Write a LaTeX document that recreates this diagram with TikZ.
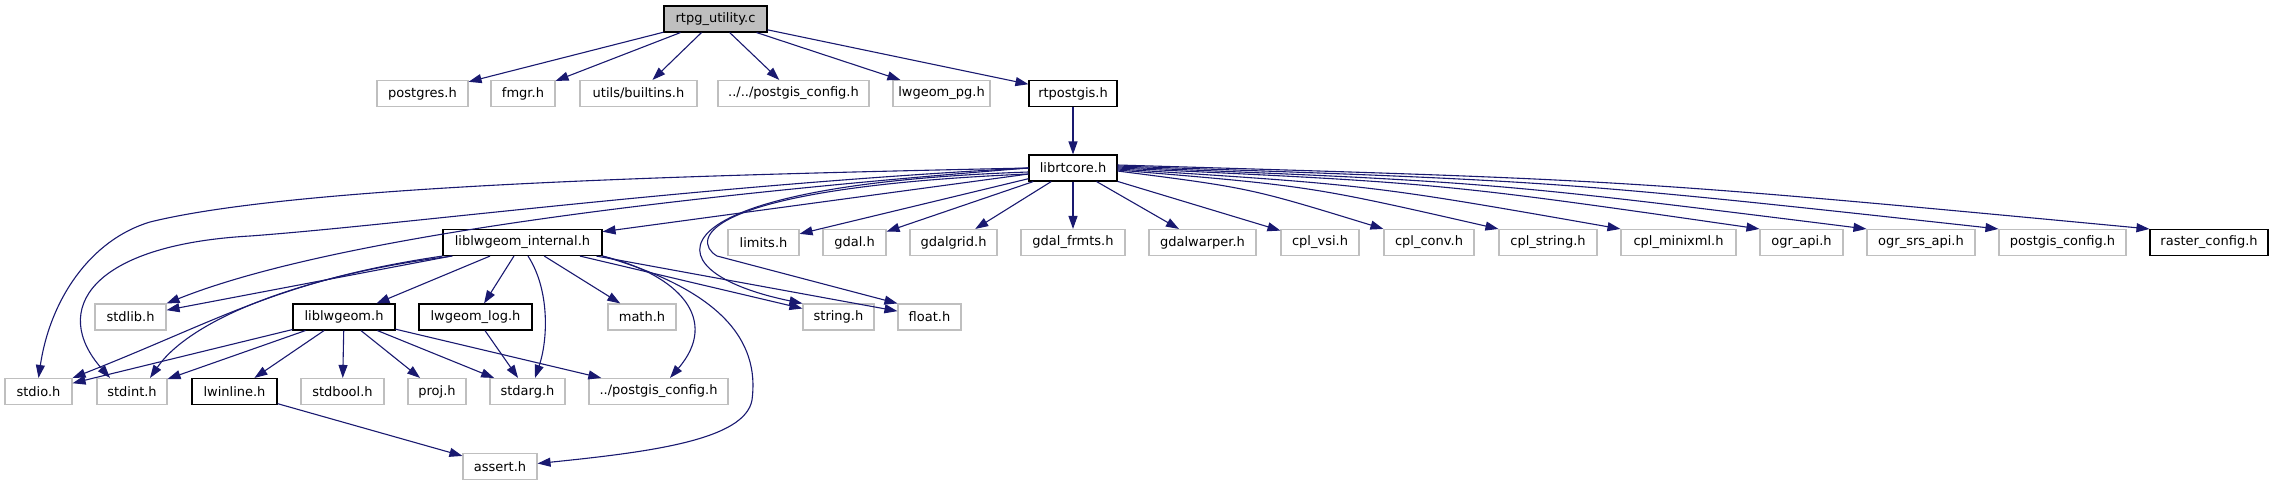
\documentclass[tikz,border=0pt]{standalone}
\usepackage{fontspec}
\setmainfont{DejaVu Sans}
\usetikzlibrary{arrows.meta}

\definecolor{edgeblue}{HTML}{191970}
\definecolor{grey75}{HTML}{BFBFBF}

\begin{document}
\begin{tikzpicture}[x=1pt, y=1pt,
    hdr/.style={draw=grey75, line width=1.1pt, minimum height=26pt, inner sep=0pt,
                font=\fontsize{13pt}{15pt}\selectfont},
    doc/.style={hdr, draw=black},
    edge/.style={draw=edgeblue, line width=1.1pt, -{Triangle[length=13pt,width=9pt]}}]
    \useasboundingbox (0,0) rectangle (2274,-485);

    % top and first row
    \node[doc, fill=grey75, minimum width=103pt] (rtpg) at (715.5,-19) {rtpg\_utility.c};
    \node[hdr, minimum width=91pt] (postgres) at (422.5,-93.5) {postgres.h};
    \node[hdr, minimum width=64pt] (fmgr) at (523,-93.5) {fmgr.h};
    \node[hdr, minimum width=117pt] (builtins) at (638.5,-93.5) {utils/builtins.h};
    \node[hdr, minimum width=151pt] (pgcfgup) at (793.5,-93.5) {../../postgis\_config.h};
    \node[hdr, minimum width=97pt] (lwpg) at (941.5,-93.5) {lwgeom\_pg.h};
    \node[doc, minimum width=88pt] (rtpostgis) at (1073,-93.5) {rtpostgis.h};
    \node[doc, minimum width=88pt] (librtcore) at (1073,-168) {librtcore.h};

    % third row
    \node[doc, minimum width=159pt] (lwi) at (522.5,-242.5) {liblwgeom\_internal.h};
    \node[hdr, minimum width=71pt] (limits) at (763.5,-242.5) {limits.h};
    \node[hdr, minimum width=63pt] (gdal) at (854.5,-242.5) {gdal.h};
    \node[hdr, minimum width=87pt] (gdalgrid) at (953.5,-242.5) {gdalgrid.h};
    \node[hdr, minimum width=104pt] (frmts) at (1073,-242.5) {gdal\_frmts.h};
    \node[hdr, minimum width=107pt] (warper) at (1202.5,-242.5) {gdalwarper.h};
    \node[hdr, minimum width=78pt] (vsi) at (1320,-242.5) {cpl\_vsi.h};
    \node[hdr, minimum width=90pt] (conv) at (1429,-242.5) {cpl\_conv.h};
    \node[hdr, minimum width=98pt] (cplstr) at (1548,-242.5) {cpl\_string.h};
    \node[hdr, minimum width=115pt] (minixml) at (1678.5,-242.5) {cpl\_minixml.h};
    \node[hdr, minimum width=83pt] (ogr) at (1801.5,-242.5) {ogr\_api.h};
    \node[hdr, minimum width=108pt] (ogrsrs) at (1921,-242.5) {ogr\_srs\_api.h};
    \node[hdr, minimum width=127pt] (pgcfg) at (2062.5,-242.5) {postgis\_config.h};
    \node[doc, minimum width=118pt] (rastcfg) at (2209,-242.5) {raster\_config.h};

    % fourth row
    \node[hdr, minimum width=71pt] (stdlib) at (130.5,-317) {stdlib.h};
    \node[doc, minimum width=102pt] (lwgeom) at (344,-317) {liblwgeom.h};
    \node[doc, minimum width=113pt] (lwlog) at (475.5,-317) {lwgeom\_log.h};
    \node[hdr, minimum width=68pt] (math) at (642,-317) {math.h};
    \node[hdr, minimum width=71pt] (string) at (838.5,-317) {string.h};
    \node[hdr, minimum width=63pt] (float) at (929.5,-317) {float.h};

    % fifth row
    \node[hdr, minimum width=67pt] (stdio) at (38.5,-391.5) {stdio.h};
    \node[hdr, minimum width=70pt] (stdint) at (132,-391.5) {stdint.h};
    \node[doc, minimum width=85pt] (lwinline) at (234.5,-391.5) {lwinline.h};
    \node[hdr, minimum width=83pt] (stdbool) at (342.5,-391.5) {stdbool.h};
    \node[hdr, minimum width=58pt] (proj) at (437,-391.5) {proj.h};
    \node[hdr, minimum width=75pt] (stdarg) at (527.5,-391.5) {stdarg.h};
    \node[hdr, minimum width=139pt] (pgcfgdn) at (658.5,-391.5) {../postgis\_config.h};
    \node[hdr, minimum width=74pt] (assert) at (500,-466.5) {assert.h};

    \draw[edge] (rtpg) -- (postgres);
    \draw[edge] (rtpg) -- (fmgr);
    \draw[edge] (rtpg) -- (builtins);
    \draw[edge] (rtpg) -- (pgcfgup);
    \draw[edge] (rtpg) -- (lwpg);
    \draw[edge] (rtpg) -- (rtpostgis);
    \draw[edge] (rtpostgis) -- (librtcore);

    \draw[edge] (librtcore) -- (lwi);
    \draw[edge] (librtcore) -- (limits);
    \draw[edge] (librtcore) -- (gdal);
    \draw[edge] (librtcore) -- (gdalgrid);
    \draw[edge] (librtcore) -- (frmts);
    \draw[edge] (librtcore) -- (warper);
    \draw[edge] (librtcore) -- (vsi);
    \draw[edge] ([yshift=-3pt]librtcore.east) .. controls (1250,-188) .. (conv.north west);
    \draw[edge] ([yshift=-2pt]librtcore.east) .. controls (1310,-186) .. (cplstr.north west);
    \draw[edge] ([yshift=-1pt]librtcore.east) .. controls (1370,-185) .. (minixml.north west);
    \draw[edge] (librtcore.east) .. controls (1440,-183) .. (ogr.north west);
    \draw[edge] ([yshift=1pt]librtcore.east) .. controls (1490,-182) .. (ogrsrs.north west);
    \draw[edge] ([yshift=2pt]librtcore.east) .. controls (1560,-181) .. (pgcfg.north west);
    \draw[edge] ([yshift=3pt]librtcore.east) .. controls (1630,-180) .. (rastcfg.north west);
    \draw[edge] (librtcore.west) .. controls (700,-175) and (300,-185) .. (150,-222)
        .. controls (90,-240) and (50,-300) .. (stdio.north);
    \draw[edge] (librtcore.west) .. controls (700,-185) and (400,-225) .. (250,-236)
        .. controls (90,-245) and (50,-310) .. ([xshift=-22pt]stdint.north);
    \draw[edge] (librtcore.west) .. controls (750,-190) and (350,-230) .. (stdlib.north east);
    \draw[edge] ([yshift=-4pt]librtcore.west) .. controls (650,-185) and (640,-270) .. (string.north west);
    \draw[edge] ([yshift=-6pt]librtcore.west) .. controls (700,-188) and (690,-240) .. (717,-256)
        -- (float.north west);

    \draw[edge] (lwi) -- (stdlib);
    \draw[edge] (lwi.south west) .. controls (280,-280) and (220,-320) .. (stdio.north east);
    \draw[edge] ([xshift=10pt]lwi.south west) .. controls (300,-275) and (190,-320) .. ([xshift=18pt]stdint.north);
    \draw[edge] (lwi) -- (lwgeom);
    \draw[edge] (lwi) -- (lwlog);
    \draw[edge] ([xshift=5.5pt]lwi.south) .. controls (550,-290) and (548,-340) .. ([xshift=7.5pt]stdarg.north);
    \draw[edge] (lwi) -- (math);
    \draw[edge] (lwi) -- (string);
    \draw[edge] (lwi) -- (float);
    \draw[edge] (lwi.south east) .. controls (680,-275) and (720,-320) .. ([xshift=11.5pt]pgcfgdn.north);
    \draw[edge] (lwi.south east) .. controls (720,-290) and (760,-340) .. (752,-400)
        .. controls (745,-440) and (650,-452) .. ([yshift=3pt]assert.east);

    \draw[edge] (lwgeom) -- (stdio);
    \draw[edge] (lwgeom) -- (stdint);
    \draw[edge] (lwgeom) -- (lwinline);
    \draw[edge] (lwgeom) -- (stdbool);
    \draw[edge] (lwgeom) -- (proj);
    \draw[edge] (lwgeom) -- (stdarg);
    \draw[edge] (lwgeom) -- (pgcfgdn);
    \draw[edge] (lwlog) -- (stdarg);
    \draw[edge] (lwinline) -- (assert);
\end{tikzpicture}
\end{document}
